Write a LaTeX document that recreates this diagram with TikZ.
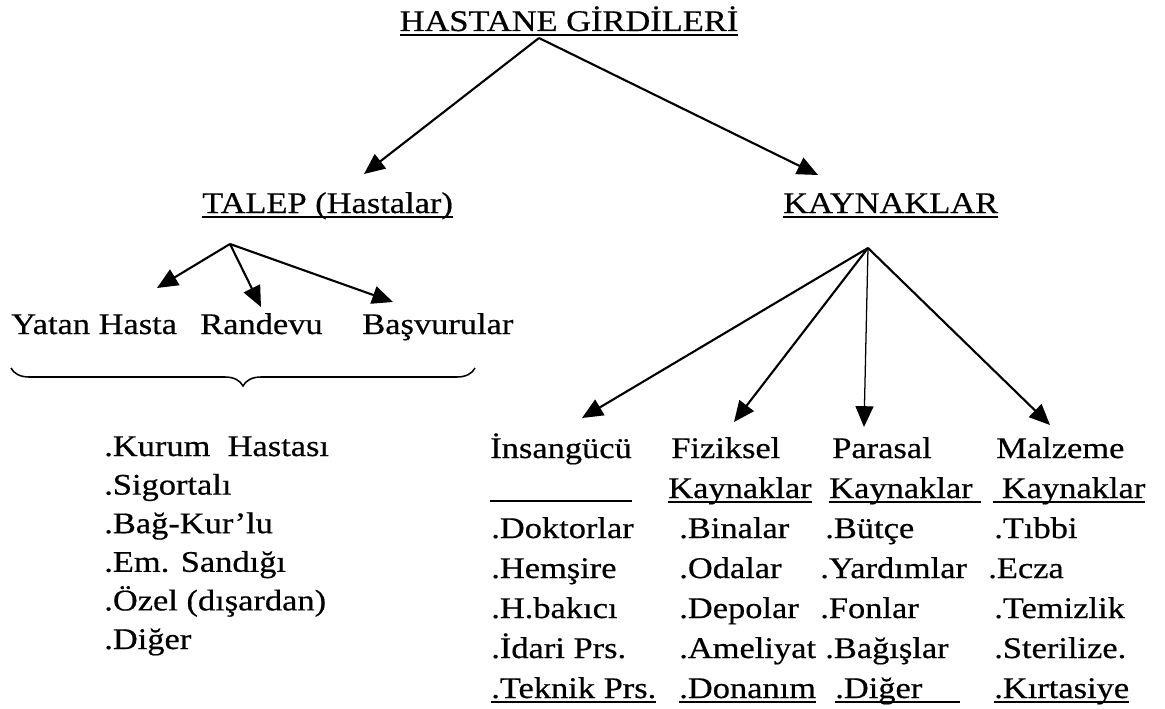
\documentclass[tikz,border=0pt]{standalone}
\usepackage{fontspec}
\setmainfont{Liberation Serif}[FakeStretch=1.15, FakeBold=0.5]
\usepackage{tikz}
\usetikzlibrary{arrows.meta,positioning,calc,decorations.pathreplacing}
\newsavebox{\ulbox}
\newcommand{\undl}[1]{\sbox\ulbox{#1}\rlap{\rule[-0.16em]{\wd\ulbox}{0.07em}}\usebox\ulbox}

\begin{document}
\begin{tikzpicture}[
    txt/.style={inner sep=0pt, anchor=base west, font=\fontsize{21.3}{25}\selectfont},
    arr/.style={-{Triangle[length=0.52cm, width=0.45cm]}, line width=1.5pt},
  ]
  \useasboundingbox (0,0) rectangle (29.125,-17.725);

  % headings
  \node[txt, anchor=base] (hg) at (14.225,-0.775) {\undl{HASTANE GİRDİLERİ}};
  \node[txt] (talep) at (5.05,-5.325) {\undl{TALEP (Hastalar)}};
  \node[txt] (kaynak) at (19.575,-5.325) {\undl{KAYNAKLAR}};

  % demand side
  \node[txt] (yatan) at (0.275,-8.35) {Yatan Hasta};
  \node[txt] (randevu) at (5.0,-8.35) {Randevu};
  \node[txt] (basvuru) at (9.05,-8.35) {Başvurular};
  \draw[decorate, decoration={brace, amplitude=0.45cm, mirror}, line width=1.1pt]
    (0.275,-9.2) -- (11.875,-9.2);
  \foreach \t [count=\i] in {.Kurum\ \ Hastası, .Sigortalı, .Bağ-Kur’lu, .Em. Sandığı, .Özel (dışardan), .Diğer}
    \node[txt] (hasta\i) at (2.6,{-11.4-0.965*(\i-1)}) {\t};

  % resources
  \node[txt] (insan) at (12.25,-11.45) {İnsangücü};
  \draw[line width=1.5pt] (12.25,-12.525) -- (15.8,-12.525);
  \foreach \t [count=\i] in {.Doktorlar, .Hemşire, .H.bakıcı, .İdari Prs., \undl{.Teknik Prs.}}
    \node[txt] (insan\i) at (12.275,{-13.45-(\i-1)}) {\t};

  \node[txt] (fizik) at (16.775,-11.45) {Fiziksel};
  \node[txt] (fizikk) at (16.7,-12.45) {\undl{Kaynaklar}};
  \foreach \t [count=\i] in {.Binalar, .Odalar, .Depolar, .Ameliyat, \undl{.Donanım}}
    \node[txt] (fizik\i) at (16.975,{-13.45-(\i-1)}) {\t};

  \node[txt] (para) at (20.8,-11.45) {Parasal};
  \node[txt] (parak) at (20.725,-12.45) {\undl{Kaynaklar\ }};
  \foreach \x/\t [count=\i] in {20.625/.Bütçe, 20.5/.Yardımlar, 20.5/.Fonlar, 20.625/.Bağışlar, 20.875/{\undl{.Diğer\hspace{0.95cm}}}}
    \node[txt] (para\i) at (\x,{-13.45-(\i-1)}) {\t};

  \node[txt] (malz) at (24.9,-11.45) {Malzeme};
  \node[txt] (malzk) at (24.825,-12.45) {\undl{\ Kaynaklar}};
  \foreach \x/\t [count=\i] in {24.85/.Tıbbi, 24.7/.Ecza, 24.85/.Temizlik, 24.85/.Sterilize., 24.85/{\undl{.Kırtasiye}}}
    \node[txt] (malz\i) at (\x,{-13.45-(\i-1)}) {\t};

  % arrow ends
  \coordinate (hg-o) at (13.475,-0.95);
  \coordinate (talep-in) at (9.1,-4.35);
  \coordinate (kaynak-in) at (20.45,-4.375);
  \coordinate (talep-o) at (5.75,-6.1);
  \coordinate (yatan-in) at (3.925,-7.2);
  \coordinate (randevu-in) at (6.525,-7.675);
  \coordinate (basvuru-in) at (9.825,-7.55);
  \coordinate (kaynak-o) at (21.7,-6.2);
  \coordinate (insan-in) at (14.55,-10.45);
  \coordinate (fizik-in) at (18.35,-10.55);
  \coordinate (para-in) at (21.6,-10.675);
  \coordinate (malz-in) at (26.25,-10.625);

  \draw[arr] (hg-o) -- (talep-in);
  \draw[arr] (hg-o) -- (kaynak-in);
  \foreach \n in {yatan, randevu, basvuru}
    \draw[arr] (talep-o) -- (\n-in);
  \foreach \n in {insan, fizik, malz}
    \draw[arr] (kaynak-o) -- (\n-in);
  \draw[arr, line width=0.9pt] (kaynak-o) -- (para-in);
\end{tikzpicture}
\end{document}
